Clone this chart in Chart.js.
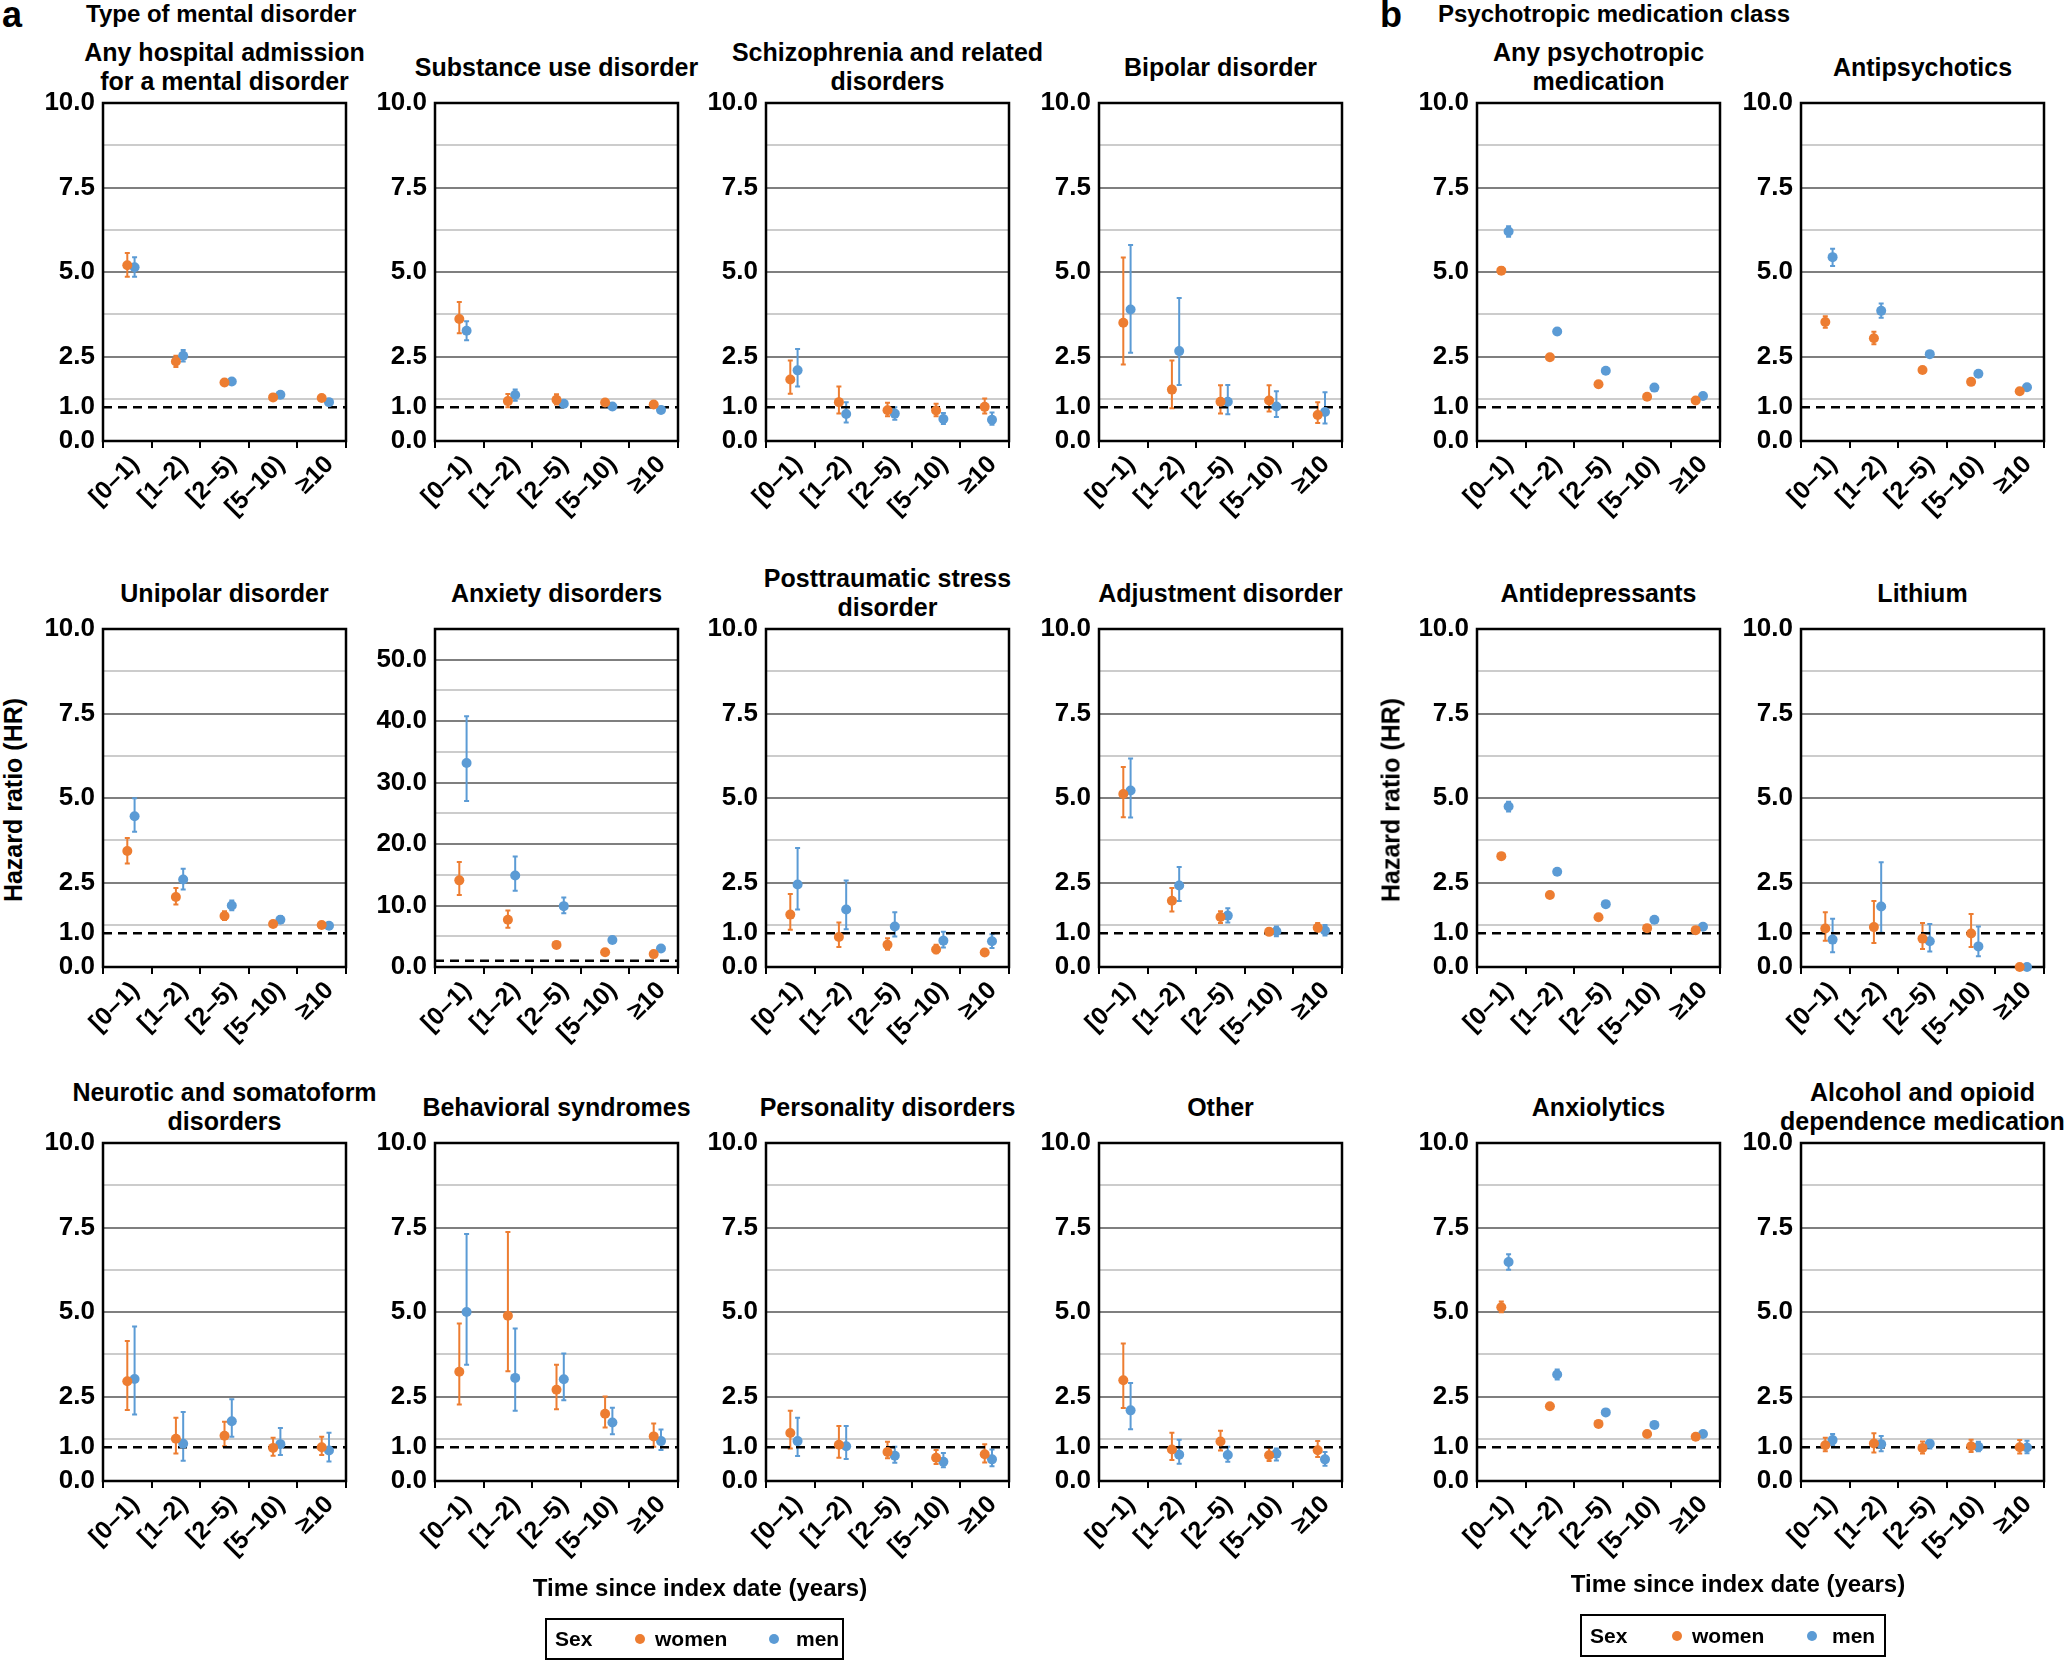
<!DOCTYPE html>
<html>
<head>
<meta charset="utf-8">
<title>Hazard ratios by time since index date</title>
<script src="https://cdn.jsdelivr.net/npm/chart.js@4.4.1/dist/chart.umd.min.js"></script>
<style>
  body {
    margin: 0; background: #fff; width: 2068px; height: 1663px;
    position: relative; overflow: hidden;
    font-family: "Liberation Sans", Arial, Helvetica, sans-serif;
    font-weight: bold; color: #000;
  }
  .abs { position: absolute; white-space: nowrap; }
  .ptitle {
    position: absolute; display: flex; align-items: center; justify-content: center;
    text-align: center; font-size: 25px; line-height: 29px; white-space: nowrap;
  }
  .legend { position: absolute; border: 2px solid #000; box-sizing: border-box; font-size: 21px; }
  .legend span { position: absolute; top: 50%; transform: translateY(-50%); }
  .dot { width: 10px; height: 10px; border-radius: 50%; }
  canvas { position: absolute; }
</style>
</head>
<body>
<script>
// x categories and y ticks
const periods = ['[0–1)', '[1–2)', '[2–5)', '[5–10)', '≥10'];
const yTicks = [0, 1, 2.5, 5, 7.5, 10];
const yMinor = [1.25, 3.75, 6.25, 8.75];
const yTicksAnx = [0, 10, 20, 30, 40, 50];
const yMinorAnx = [5, 15, 25, 35, 45];

// hazard ratio, lower CI, upper CI per period
const hospWomen = [[5.20, 4.86, 5.56], [2.35, 2.19, 2.52], [1.73, 1.66, 1.80], [1.29, 1.24, 1.34], [1.27, 1.22, 1.32]];
const hospMen = [[5.14, 4.86, 5.44], [2.52, 2.35, 2.69], [1.76, 1.70, 1.82], [1.37, 1.32, 1.42], [1.15, 1.09, 1.21]];
const subsWomen = [[3.61, 3.19, 4.11], [1.18, 1.00, 1.39], [1.22, 1.08, 1.38], [1.14, 1.08, 1.20], [1.08, 1.02, 1.14]];
const subsMen = [[3.26, 2.98, 3.54], [1.36, 1.19, 1.52], [1.10, 1.05, 1.15], [1.02, 0.97, 1.07], [0.92, 0.87, 0.97]];
const schizWomen = [[1.82, 1.40, 2.38], [1.15, 0.81, 1.61], [0.91, 0.73, 1.13], [0.90, 0.73, 1.10], [1.01, 0.81, 1.26]];
const schizMen = [[2.09, 1.61, 2.72], [0.80, 0.55, 1.15], [0.81, 0.63, 1.00], [0.65, 0.50, 0.83], [0.63, 0.48, 0.84]];
const bipolarWomen = [[3.50, 2.26, 5.43], [1.52, 0.97, 2.38], [1.16, 0.81, 1.65], [1.20, 0.87, 1.65], [0.77, 0.53, 1.15]];
const bipolarMen = [[3.89, 2.61, 5.80], [2.66, 1.66, 4.23], [1.16, 0.79, 1.66], [1.02, 0.71, 1.47], [0.86, 0.52, 1.44]];
const anyMedWomen = [[5.04, 4.94, 5.14], [2.48, 2.42, 2.54], [1.68, 1.63, 1.73], [1.31, 1.27, 1.35], [1.20, 1.16, 1.24]];
const anyMedMen = [[6.20, 6.04, 6.35], [3.24, 3.16, 3.32], [2.08, 2.02, 2.14], [1.58, 1.52, 1.64], [1.33, 1.28, 1.38]];
const antipsyWomen = [[3.52, 3.35, 3.69], [3.04, 2.86, 3.23], [2.10, 2.04, 2.16], [1.75, 1.70, 1.80], [1.47, 1.42, 1.52]];
const antipsyMen = [[5.44, 5.18, 5.69], [3.85, 3.65, 4.07], [2.57, 2.51, 2.63], [1.99, 1.93, 2.05], [1.59, 1.53, 1.65]];

const unipolarWomen = [[3.43, 3.06, 3.82], [2.07, 1.85, 2.34], [1.51, 1.39, 1.65], [1.27, 1.21, 1.33], [1.24, 1.18, 1.30]];
const unipolarMen = [[4.46, 4.00, 4.99], [2.59, 2.29, 2.91], [1.82, 1.68, 1.97], [1.40, 1.30, 1.51], [1.22, 1.15, 1.29]];
const anxietyWomen = [[14.1, 11.7, 17.1], [7.7, 6.4, 9.2], [3.6, 3.3, 3.9], [2.4, 2.1, 2.7], [2.1, 1.8, 2.4]];
const anxietyMen = [[33.2, 27.0, 40.8], [14.9, 12.4, 18.0], [9.9, 8.75, 11.3], [4.4, 4.0, 4.8], [3.0, 2.7, 3.3]];
const ptsdWomen = [[1.55, 1.10, 2.16], [0.89, 0.59, 1.32], [0.66, 0.51, 0.85], [0.52, 0.41, 0.66], [0.43, 0.36, 0.51]];
const ptsdMen = [[2.44, 1.70, 3.52], [1.70, 1.12, 2.56], [1.20, 0.90, 1.62], [0.78, 0.58, 1.04], [0.76, 0.56, 0.97]];
const adjustWomen = [[5.12, 4.43, 5.92], [1.96, 1.64, 2.34], [1.48, 1.30, 1.65], [1.04, 0.95, 1.14], [1.16, 1.05, 1.30]];
const adjustMen = [[5.22, 4.42, 6.17], [2.41, 1.95, 2.96], [1.52, 1.32, 1.74], [1.06, 0.91, 1.20], [1.08, 0.93, 1.24]];
const antidepWomen = [[3.28, 3.22, 3.34], [2.13, 2.08, 2.18], [1.47, 1.43, 1.51], [1.15, 1.11, 1.19], [1.09, 1.05, 1.13]];
const antidepMen = [[4.75, 4.60, 4.89], [2.82, 2.76, 2.88], [1.86, 1.81, 1.91], [1.40, 1.35, 1.45], [1.19, 1.14, 1.24]];
const lithiumWomen = [[1.14, 0.78, 1.62], [1.18, 0.71, 1.95], [0.84, 0.53, 1.30], [0.99, 0.59, 1.57], [0.0, 0.0, 0.0]];
const lithiumMen = [[0.81, 0.44, 1.43], [1.79, 1.01, 3.10], [0.76, 0.46, 1.27], [0.61, 0.32, 1.20], [0.0, 0.0, 0.0]];

const neuroticWomen = [[2.95, 2.10, 4.14], [1.25, 0.81, 1.87], [1.34, 1.03, 1.75], [0.98, 0.75, 1.28], [1.00, 0.77, 1.31]];
const neuroticMen = [[3.02, 1.97, 4.57], [1.10, 0.60, 2.04], [1.77, 1.31, 2.42], [1.09, 0.77, 1.57], [0.90, 0.58, 1.43]];
const behavWomen = [[3.23, 2.26, 4.66], [4.89, 3.25, 7.37], [2.70, 2.12, 3.44], [1.99, 1.58, 2.50], [1.32, 1.01, 1.70]];
const behavMen = [[5.00, 3.44, 7.31], [3.05, 2.08, 4.51], [3.01, 2.39, 3.77], [1.73, 1.38, 2.17], [1.18, 0.92, 1.52]];
const personWomen = [[1.42, 0.96, 2.08], [1.07, 0.69, 1.63], [0.86, 0.67, 1.16], [0.69, 0.50, 0.92], [0.79, 0.55, 1.09]];
const personMen = [[1.18, 0.74, 1.87], [1.03, 0.65, 1.63], [0.75, 0.54, 1.01], [0.57, 0.41, 0.83], [0.64, 0.44, 0.93]];
const otherWomen = [[2.98, 2.16, 4.07], [0.93, 0.62, 1.43], [1.17, 0.90, 1.49], [0.76, 0.59, 0.98], [0.91, 0.71, 1.18]];
const otherMen = [[2.09, 1.53, 2.90], [0.78, 0.51, 1.22], [0.77, 0.57, 1.01], [0.81, 0.61, 0.96], [0.64, 0.45, 0.86]];
const anxiolWomen = [[5.14, 4.99, 5.31], [2.21, 2.15, 2.27], [1.69, 1.64, 1.74], [1.39, 1.34, 1.44], [1.31, 1.26, 1.36]];
const anxiolMen = [[6.48, 6.25, 6.71], [3.15, 3.00, 3.30], [2.03, 1.97, 2.09], [1.66, 1.60, 1.72], [1.39, 1.34, 1.44]];
const alcoholWomen = [[1.06, 0.88, 1.28], [1.11, 0.84, 1.41], [0.98, 0.81, 1.17], [1.03, 0.86, 1.22], [1.00, 0.81, 1.21]];
const alcoholMen = [[1.21, 1.06, 1.39], [1.09, 0.88, 1.33], [1.10, 0.96, 1.21], [1.01, 0.88, 1.16], [0.99, 0.82, 1.19]];

const WOMEN = '#ED7D31';
const MEN = '#5B9BD5';
const FONT = "'Liberation Sans', Arial, Helvetica, sans-serif";

const panels = [
  { title: ['Any hospital admission', 'for a mental disorder'], women: hospWomen, men: hospMen, row: 0, col: 0 },
  { title: ['Substance use disorder'], women: subsWomen, men: subsMen, row: 0, col: 1 },
  { title: ['Schizophrenia and related', 'disorders'], women: schizWomen, men: schizMen, row: 0, col: 2 },
  { title: ['Bipolar disorder'], women: bipolarWomen, men: bipolarMen, row: 0, col: 3 },
  { title: ['Any psychotropic', 'medication'], women: anyMedWomen, men: anyMedMen, row: 0, col: 4 },
  { title: ['Antipsychotics'], women: antipsyWomen, men: antipsyMen, row: 0, col: 5 },
  { title: ['Unipolar disorder'], women: unipolarWomen, men: unipolarMen, row: 1, col: 0 },
  { title: ['Anxiety disorders'], women: anxietyWomen, men: anxietyMen, row: 1, col: 1, anx: true },
  { title: ['Posttraumatic stress', 'disorder'], women: ptsdWomen, men: ptsdMen, row: 1, col: 2 },
  { title: ['Adjustment disorder'], women: adjustWomen, men: adjustMen, row: 1, col: 3 },
  { title: ['Antidepressants'], women: antidepWomen, men: antidepMen, row: 1, col: 4 },
  { title: ['Lithium'], women: lithiumWomen, men: lithiumMen, row: 1, col: 5 },
  { title: ['Neurotic and somatoform', 'disorders'], women: neuroticWomen, men: neuroticMen, row: 2, col: 0 },
  { title: ['Behavioral syndromes'], women: behavWomen, men: behavMen, row: 2, col: 1 },
  { title: ['Personality disorders'], women: personWomen, men: personMen, row: 2, col: 2 },
  { title: ['Other'], women: otherWomen, men: otherMen, row: 2, col: 3 },
  { title: ['Anxiolytics'], women: anxiolWomen, men: anxiolMen, row: 2, col: 4 },
  { title: ['Alcohol and opioid', 'dependence medication'], women: alcoholWomen, men: alcoholMen, row: 2, col: 5 }
];

// layout of the plot areas on the page
const colLeft = [103, 435, 766, 1099, 1477, 1801];
const rowTop = [103, 629, 1143];
const PLOT_W = 243, PLOT_H = 338;
const Y_W = 72, PAD_T = 16, PAD_R = 12, X_H = 100;
const MEN_SHIFT = 0.15;

// frame round the plot area and the confidence interval whiskers
const framePlugin = {
  id: 'frame',
  beforeDatasetsDraw(chart) {
    const { ctx, chartArea: a, scales } = chart;
    ctx.save();
    ctx.strokeStyle = '#000';
    ctx.lineWidth = 2.5;
    ctx.strokeRect(a.left, a.top, a.right - a.left, a.bottom - a.top);
    chart.data.datasets.forEach(ds => {
      if (!ds.ci) return;
      ctx.strokeStyle = ds.backgroundColor;
      ctx.lineWidth = 2;
      ds.ci.forEach((c, i) => {
        if (c[1] - c[0] <= 0) return;
        const x = scales.xd.getPixelForValue(ds.data[i].x);
        const y1 = scales.y.getPixelForValue(c[0]);
        const y2 = scales.y.getPixelForValue(c[1]);
        ctx.beginPath();
        ctx.moveTo(x, y1); ctx.lineTo(x, y2);
        ctx.moveTo(x - 2.5, y1); ctx.lineTo(x + 2.5, y1);
        ctx.moveTo(x - 2.5, y2); ctx.lineTo(x + 2.5, y2);
        ctx.stroke();
      });
    });
    ctx.restore();
  }
};

function addText(cls, text, style) {
  const d = document.createElement('div');
  d.className = cls;
  d.innerHTML = text;
  Object.assign(d.style, style);
  document.body.appendChild(d);
  return d;
}

function pointSet(label, rows, color, shift) {
  return {
    label: label,
    data: rows.map((r, i) => ({ x: i + shift, y: r[0] })),
    ci: rows.map(r => [r[1], r[2]]),
    backgroundColor: color,
    borderWidth: 0,
    pointRadius: 5,
    pointHoverRadius: 5,
    showLine: false,
    clip: false,
    xAxisID: 'xd',
    yAxisID: 'y'
  };
}

panels.forEach(p => {
  const left = colLeft[p.col], top = rowTop[p.row];
  const major = p.anx ? yTicksAnx : yTicks;
  const minor = p.anx ? yMinorAnx : yMinor;
  const allTicks = major.concat(minor).sort((a, b) => a - b);

  // panel title, centred over the plot area
  addText('ptitle', p.title.join('<br>'), {
    left: (left - 40) + 'px', width: (PLOT_W + 80) + 'px',
    top: (top - 66) + 'px', height: '60px'
  });

  const canvas = document.createElement('canvas');
  const W = Y_W + PLOT_W + PAD_R, H = PAD_T + PLOT_H + X_H;
  canvas.width = W; canvas.height = H;
  canvas.style.left = (left - Y_W) + 'px';
  canvas.style.top = (top - PAD_T) + 'px';
  canvas.style.width = W + 'px';
  canvas.style.height = H + 'px';
  document.body.appendChild(canvas);

  new Chart(canvas.getContext('2d'), {
    type: 'scatter',
    data: {
      datasets: [
        pointSet('women', p.women, WOMEN, 0),
        pointSet('men', p.men, MEN, MEN_SHIFT),
        {
          label: 'HR = 1',
          data: [{ x: -0.5, y: 1 }, { x: 4.5, y: 1 }],
          showLine: true,
          borderColor: '#000',
          borderWidth: 2.5,
          borderDash: [9, 6],
          pointRadius: 0,
          order: 5,
          xAxisID: 'xd',
          yAxisID: 'y'
        }
      ]
    },
    options: {
      responsive: false,
      animation: false,
      devicePixelRatio: 1,
      layout: { padding: { top: PAD_T, right: PAD_R, left: 0, bottom: 0 } },
      plugins: { legend: { display: false }, tooltip: { enabled: false } },
      scales: {
        xd: { type: 'linear', min: -0.5, max: 4.5, display: false },
        xc: {
          type: 'category',
          labels: periods,
          position: 'bottom',
          offset: true,
          afterFit: s => { s.height = X_H; s.paddingLeft = 0; s.paddingRight = 0; },
          grid: { offset: true, drawOnChartArea: false, drawTicks: true, tickLength: 7, color: '#000', lineWidth: 2 },
          border: { display: false },
          ticks: {
            autoSkip: false, minRotation: 45, maxRotation: 45, padding: 2, labelOffset: 8,
            color: '#000', font: { family: FONT, size: 25, weight: 'bold' }
          }
        },
        y: {
          type: 'linear',
          min: 0,
          max: p.anx ? 55 : 10,
          afterBuildTicks: s => { s.ticks = allTicks.map(v => ({ value: v })); },
          afterFit: s => { s.width = Y_W; s.paddingTop = 0; s.paddingBottom = 0; },
          grid: {
            drawTicks: false,
            lineWidth: 2,
            color: c => {
              const v = c.tick.value;
              if (minor.includes(v)) return '#cccccc';
              if (v === 0 || v === 1 || v === 10 && !p.anx) return 'rgba(0,0,0,0)';
              return '#7f7f7f';
            }
          },
          border: { display: false },
          ticks: {
            autoSkip: false, padding: 8, color: '#000',
            font: { family: FONT, size: 26, weight: 'bold' },
            callback: v => major.includes(v) ? v.toFixed(1) : ''
          }
        }
      }
    },
    plugins: [framePlugin]
  });
});

// panel letters and group headings
addText('abs', 'a', { left: '2px', top: '-6px', fontSize: '36px' });
addText('abs', 'Type of mental disorder', { left: '86px', top: '0px', fontSize: '24px' });
addText('abs', 'b', { left: '1380px', top: '-6px', fontSize: '36px' });
addText('abs', 'Psychotropic medication class', { left: '1438px', top: '0px', fontSize: '24px' });

// y axis titles
[13, 1391].forEach(x => {
  addText('abs', 'Hazard ratio (HR)', {
    left: x + 'px', top: '800px', fontSize: '25px',
    transform: 'translate(-50%, -50%) rotate(-90deg)'
  });
});

// x axis titles
addText('abs', 'Time since index date (years)', { left: '700px', top: '1588px', fontSize: '24px', transform: 'translate(-50%, -50%)' });
addText('abs', 'Time since index date (years)', { left: '1738px', top: '1584px', fontSize: '24px', transform: 'translate(-50%, -50%)' });

// legends
function legendBox(x, y, w, h, pos) {
  const box = addText('legend', '', { left: x + 'px', top: y + 'px', width: w + 'px', height: h + 'px' });
  const items = [
    ['Sex', pos[0], null],
    ['', pos[1], WOMEN],
    ['women', pos[2], null],
    ['', pos[3], MEN],
    ['men', pos[4], null]
  ];
  items.forEach(it => {
    const s = document.createElement('span');
    s.textContent = it[0];
    s.style.left = it[1] + 'px';
    if (it[2]) { s.className = 'dot'; s.style.background = it[2]; }
    box.appendChild(s);
  });
}
legendBox(545, 1618, 299, 42, [8, 88, 108, 222, 249]);
legendBox(1580, 1614, 306, 43, [8, 90, 110, 225, 250]);
</script>
</body>
</html>
